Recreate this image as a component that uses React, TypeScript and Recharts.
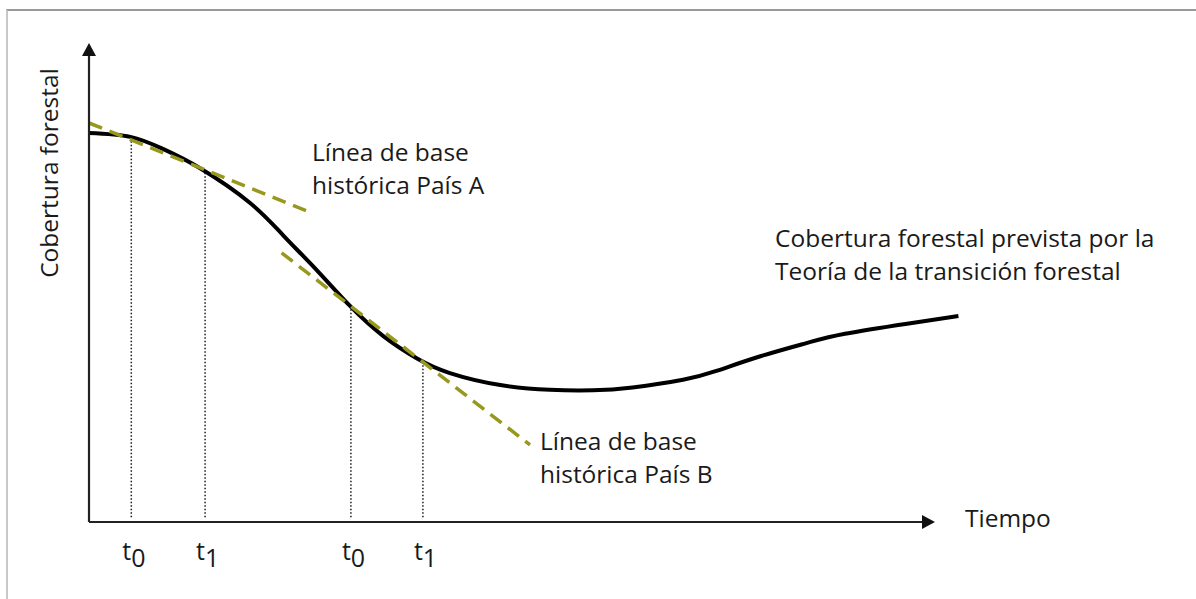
import React from 'react';
import { ComposedChart, Line, XAxis, YAxis, ReferenceLine } from 'recharts';

// Forest transition curve (time units 0-100, cover units 0-100)
const curveTime = [0, 4.6, 8.2, 12.3, 17.9, 21.6, 25.3, 29.0, 32.7, 36.4, 40.1, 45.7, 51.2, 56.0, 60.4, 66.0, 69.8, 74.6, 79.8, 84.0, 90.9, 96.6];
const curveCover = [81.2, 80.4, 77.9, 73.9, 66.6, 59.8, 52.6, 45.1, 38.8, 34.2, 31.1, 28.6, 27.6, 27.5, 28.1, 29.7, 31.6, 34.6, 37.4, 39.3, 41.4, 43.0];

// historical baselines (tangents)
const baseATime = [0, 24.8];
const baseACover = [83.3, 64.5];
const baseBTime = [21.4, 49.0];
const baseBCover = [56.2, 16.1];

// reference years t0 / t1 for each country
const markTime = [4.7, 12.9, 29.1, 37.1];
const markCover = [80.3, 73.4, 45.1, 33.6];
const markSub = ['0', '1', '0', '1'];

const AXIS_Y_TOP = 100;
const AXIS_X_END = 94;

const FONT = '"Open Sans", sans-serif';
const OLIVE = '#98981f';

const curve = curveTime.map((t, i) => ({ t, c: curveCover[i] }));
const baseA = baseATime.map((t, i) => ({ t, c: baseACover[i] }));
const baseB = baseBTime.map((t, i) => ({ t, c: baseBCover[i] }));

function Arrow(props: any) {
  const { x1, y1, x2, y2 } = props;
  const dx = x2 - x1;
  const dy = y2 - y1;
  const len = Math.sqrt(dx * dx + dy * dy) || 1;
  const ux = dx / len;
  const uy = dy / len;
  const head = 13;
  const half = 7;
  const bx = x2 - ux * head;
  const by = y2 - uy * head;
  const pts = [
    `${x2},${y2}`,
    `${bx - uy * half},${by + ux * half}`,
    `${bx + uy * half},${by - ux * half}`,
  ].join(' ');
  return (
    <g>
      <line x1={x1} y1={y1} x2={bx} y2={by} stroke="#222" strokeWidth={2.2} />
      <polygon points={pts} fill="#111" />
    </g>
  );
}

function TimeTick(props: any) {
  const { x, y, index } = props;
  return (
    <text x={x - 9} y={y + 38} fontSize={25} fontFamily={FONT} fill="#1a1a1a">
      t<tspan dy={7}>{markSub[index]}</tspan>
    </text>
  );
}

const textStyle: React.CSSProperties = {
  position: 'absolute',
  fontSize: 24.5,
  lineHeight: '33px',
  whiteSpace: 'nowrap',
  color: '#1a1a1a',
};

export default function App() {
  return (
    <div
      style={{
        position: 'absolute',
        left: 0,
        top: 0,
        width: 1196,
        height: 599,
        overflow: 'hidden',
        background: '#fff',
        fontFamily: FONT,
      }}
    >
      <div
        style={{
          position: 'absolute',
          left: 6,
          top: 9,
          width: 1300,
          height: 700,
          borderTop: '2px solid #9a9a9a',
          borderLeft: '2px solid #c8c8c8',
        }}
      />
      <div style={{ position: 'absolute', left: 0, top: 0 }}>
        <ComposedChart width={1196} height={599} margin={{ top: 43, right: 207, bottom: 0, left: 89 }}>
          <XAxis
            type="number"
            dataKey="t"
            domain={[0, 100]}
            ticks={markTime}
            tick={<TimeTick />}
            axisLine={false}
            tickLine={false}
            tickSize={0}
            tickMargin={0}
            height={77}
            allowDataOverflow
          />
          <YAxis type="number" dataKey="c" domain={[0, 100]} hide allowDataOverflow />

          {markTime.map((t, i) => (
            <ReferenceLine
              key={i}
              segment={[{ x: t, y: 1 }, { x: t, y: markCover[i] }]}
              stroke="#1a1a1a"
              strokeWidth={1.5}
              strokeDasharray="1.5 2"
              ifOverflow="visible"
            />
          ))}

          <Line
            data={curve}
            dataKey="c"
            type="natural"
            stroke="#000"
            strokeWidth={4}
            dot={false}
            activeDot={false}
            isAnimationActive={false}
          />
          <Line
            data={baseA}
            dataKey="c"
            type="linear"
            stroke={OLIVE}
            strokeWidth={3.5}
            strokeDasharray="14 8"
            dot={false}
            activeDot={false}
            isAnimationActive={false}
          />
          <Line
            data={baseB}
            dataKey="c"
            type="linear"
            stroke={OLIVE}
            strokeWidth={3.5}
            strokeDasharray="14 8"
            dot={false}
            activeDot={false}
            isAnimationActive={false}
          />

          <ReferenceLine
            segment={[{ x: 0, y: 0 }, { x: 0, y: AXIS_Y_TOP }]}
            ifOverflow="visible"
            shape={(p: any) => <Arrow {...p} />}
          />
          <ReferenceLine
            segment={[{ x: 0, y: 0 }, { x: AXIS_X_END, y: 0 }]}
            ifOverflow="visible"
            shape={(p: any) => <Arrow {...p} />}
          />
        </ComposedChart>
      </div>

      <div
        style={{
          ...textStyle,
          left: 47.5,
          top: 173,
          transform: 'translate(-50%, -50%) rotate(-90deg)',
        }}
      >
        Cobertura forestal
      </div>
      <div style={{ ...textStyle, left: 312, top: 135 }}>
        Línea de base
        <br />
        histórica País A
      </div>
      <div style={{ ...textStyle, left: 540, top: 424 }}>
        Línea de base
        <br />
        histórica País B
      </div>
      <div style={{ ...textStyle, left: 775, top: 221 }}>
        Cobertura forestal prevista por la
        <br />
        Teoría de la transición forestal
      </div>
      <div style={{ ...textStyle, left: 965, top: 501 }}>Tiempo</div>
    </div>
  );
}
